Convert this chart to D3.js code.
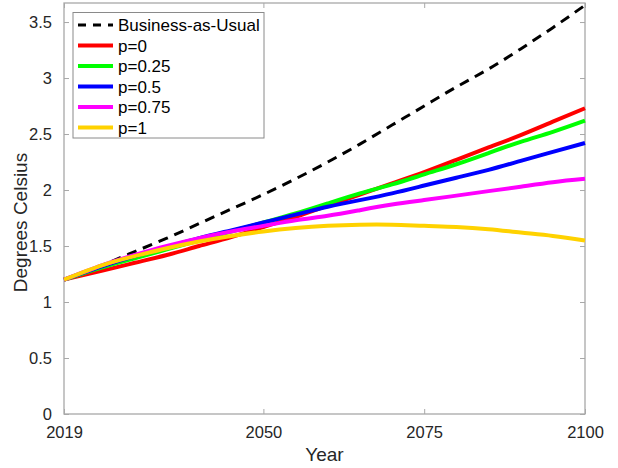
<!DOCTYPE html>
<html><head><meta charset="utf-8">
<script src="https://cdn.jsdelivr.net/npm/d3@7"></script>
<style>
html,body{margin:0;padding:0;background:#fff;}
svg{display:block;font-family:"Liberation Sans",Arial,Helvetica,sans-serif;}
</style></head><body>
<svg id="c" width="618" height="468"></svg>
<script>
const years = [2019,2025,2030,2035,2040,2045,2050,2055,2060,2065,2070,2075,2080,2085,2090,2095,2100];
const bau   = [1.20,1.33,1.45,1.57,1.70,1.83,1.96,2.10,2.25,2.41,2.58,2.75,2.92,3.08,3.26,3.45,3.65];
const p0    = [1.20,1.28,1.35,1.42,1.50,1.58,1.67,1.76,1.86,1.96,2.06,2.16,2.27,2.38,2.49,2.61,2.73];
const p025  = [1.20,1.31,1.39,1.47,1.55,1.63,1.71,1.79,1.88,1.97,2.05,2.14,2.23,2.33,2.43,2.52,2.62];
const p05   = [1.20,1.32,1.41,1.49,1.57,1.64,1.71,1.78,1.85,1.91,1.97,2.04,2.11,2.18,2.26,2.34,2.42];
const p075  = [1.20,1.33,1.42,1.50,1.57,1.63,1.68,1.73,1.77,1.82,1.87,1.91,1.95,1.99,2.03,2.07,2.10];
const p1    = [1.20,1.33,1.41,1.48,1.54,1.59,1.63,1.66,1.68,1.69,1.69,1.68,1.67,1.65,1.62,1.59,1.55];
const seriesNames = ["Business-as-Usual","p=0","p=0.25","p=0.5","p=0.75","p=1"];
const seriesColors = ["#000000","#ff0000","#00ff00","#0000ff","#ff00ff","#ffd200"];
const xTicks = [2019,2050,2075,2100];
const yTicks = [0,0.5,1,1.5,2,2.5,3,3.5];

const seriesValues = [bau,p0,p025,p05,p075,p1];
const svg = d3.select("#c");
const L=64,R=585,T=3,B=414;
const x = d3.scaleLinear().domain([2019,2100]).range([L,R]);
const y = d3.scaleLinear().domain([0,3.67]).range([B,T]);
const axisCol = "#a8a8a8", textCol = "#262626";

// box
svg.append("rect").attr("x",L).attr("y",T).attr("width",R-L).attr("height",B-T)
  .attr("fill","none").attr("stroke",axisCol).attr("stroke-width",1.3);

function styleAxis(g){
  g.select(".domain").remove();
  g.selectAll(".tick line").attr("stroke",axisCol).attr("stroke-width",1);
  g.selectAll(".tick text").attr("fill",textCol).style("font-size","16.5px")
   .style("font-family","'Liberation Sans',Arial,sans-serif");
}
const gx = svg.append("g").attr("transform",`translate(0,${B})`)
  .call(d3.axisBottom(x).tickValues(xTicks).tickFormat(d3.format("d")).tickSizeInner(-5).tickSizeOuter(0).tickPadding(12));
styleAxis(gx);
const gxt = svg.append("g").attr("transform",`translate(0,${T})`)
  .call(d3.axisTop(x).tickValues(xTicks).tickFormat("").tickSizeInner(-5).tickSizeOuter(0));
styleAxis(gxt);
const gy = svg.append("g").attr("transform",`translate(${L},0)`)
  .call(d3.axisLeft(y).tickValues(yTicks).tickFormat(d3.format("~g")).tickSizeInner(-5).tickSizeOuter(0).tickPadding(12));
styleAxis(gy);
const gyr = svg.append("g").attr("transform",`translate(${R},0)`)
  .call(d3.axisRight(y).tickValues(yTicks).tickFormat("").tickSizeInner(-5).tickSizeOuter(0));
styleAxis(gyr);

// lines
const line = d3.line().x((d,i)=>x(years[i])).y(d=>y(d)).curve(d3.curveNatural);
seriesValues.forEach((vals,k)=>{
  const p = svg.append("path").datum(vals).attr("d",line).attr("fill","none")
    .attr("stroke",seriesColors[k]).attr("stroke-width",k===0?3:4).attr("stroke-linecap","butt");
  if(k===0) p.attr("stroke-dasharray","10,7");
});

// axis labels
svg.append("text").attr("x",(L+R)/2).attr("y",461).attr("text-anchor","middle")
  .attr("fill",textCol).style("font-size","19px").text("Year");
svg.append("text").attr("transform",`translate(27,${(T+B)/2+14}) rotate(-90)`).attr("text-anchor","middle")
  .attr("fill",textCol).style("font-size","19px").text("Degrees Celsius");

// legend
const lg = svg.append("g");
lg.append("rect").attr("x",73).attr("y",12.5).attr("width",191).attr("height",125.5)
  .attr("fill","#fff").attr("stroke","#8a8a8a").attr("stroke-width",1);
seriesNames.forEach((n,k)=>{
  const yy = 25 + k*20.5;
  const l = lg.append("line").attr("x1",78).attr("x2",113).attr("y1",yy).attr("y2",yy)
    .attr("stroke",seriesColors[k]).attr("stroke-width",k===0?3:4);
  if(k===0) l.attr("stroke-dasharray","8,7");
  lg.append("text").attr("x",118).attr("y",yy+6).attr("fill","#000")
    .style("font-size","17px").text(n);
});
</script>
</body></html>
